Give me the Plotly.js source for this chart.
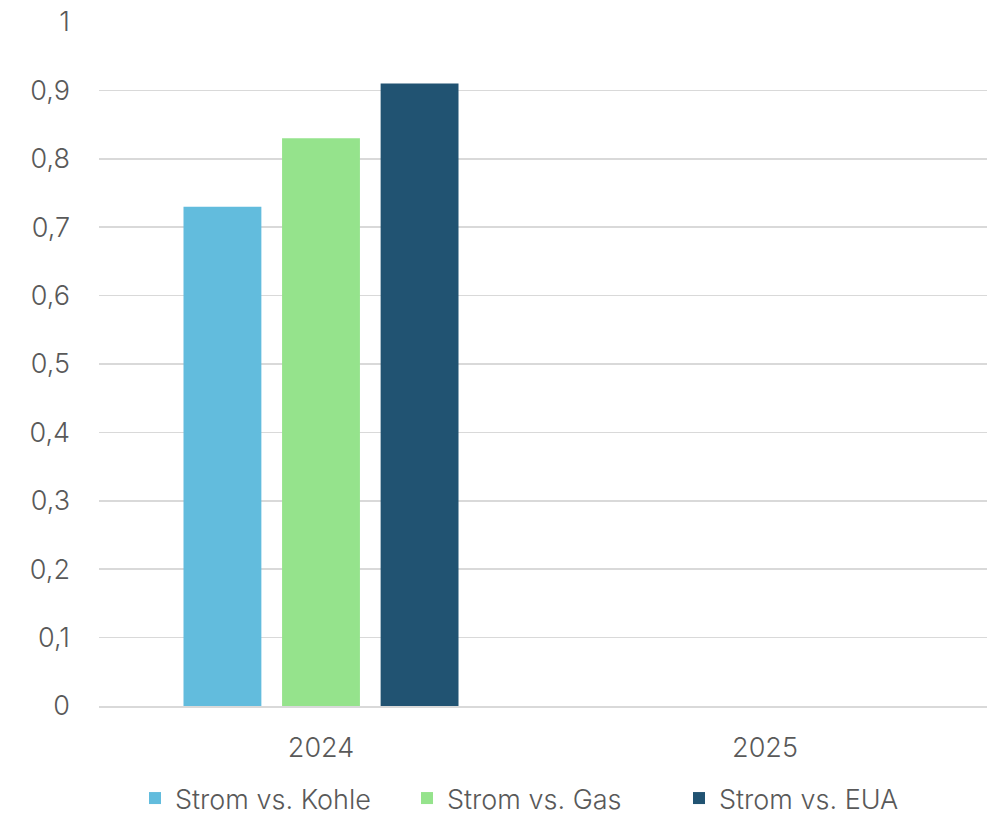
<!DOCTYPE html>
<html>
<head>
<meta charset="utf-8">
<script src="https://cdn.plot.ly/plotly-3.0.1.min.js"></script>
<style>html,body{margin:0;padding:0;background:#fff;}#chart{width:991px;height:823px;}</style>
</head>
<body>
<div id="chart"></div>
<script>
const categories = ["2024", "2025"];
const seriesNames = ["Strom vs. Kohle", "Strom vs. Gas", "Strom vs. EUA"];
const kohle = [0.73, null];
const gas = [0.83, null];
const eua = [0.91, null];
const colors = ["#62bcdd", "#95e38c", "#215372"];

const values = [kohle, gas, eua];
const data = values.map((v, i) => ({
  type: "bar",
  name: seriesNames[i],
  x: categories,
  y: v,
  marker: {color: colors[i]},
  hoverinfo: "y+name"
}));

const font = {family: "Inter, 'Open Sans', sans-serif", color: "#595959", size: 27, weight: 300};

const layout = {
  width: 991,
  height: 823,
  margin: {l: 99, r: 4, t: 22, b: 117},
  paper_bgcolor: "#fff",
  plot_bgcolor: "#fff",
  separators: ",.",
  font: font,
  barmode: "group",
  bargap: 0.334,
  bargroupgap: 0.21,
  showlegend: true,
  legend: {
    orientation: "h",
    x: 0.5,
    xanchor: "center",
    yref: "container",
    y: 0,
    yanchor: "bottom",
    font: font,
    itemwidth: 30,
    entrywidth: 227,
    tracegroupgap: 0
  },
  xaxis: {
    type: "category",
    showgrid: false,
    showline: true,
    linecolor: "#d9d9d9",
    linewidth: 2,
    ticks: "",
    ticklabelstandoff: 17,
    tickfont: font,
    fixedrange: true
  },
  yaxis: {
    range: [0, 1],
    dtick: 0.1,
    tick0: 0,
    showgrid: true,
    gridcolor: "#d9d9d9",
    gridwidth: 1.5,
    zeroline: false,
    showline: false,
    ticks: "",
    ticklabelstandoff: 28,
    tickfont: font,
    fixedrange: true
  }
};

Plotly.newPlot("chart", data, layout, {displayModeBar: false, staticPlot: true});
</script>
</body>
</html>
